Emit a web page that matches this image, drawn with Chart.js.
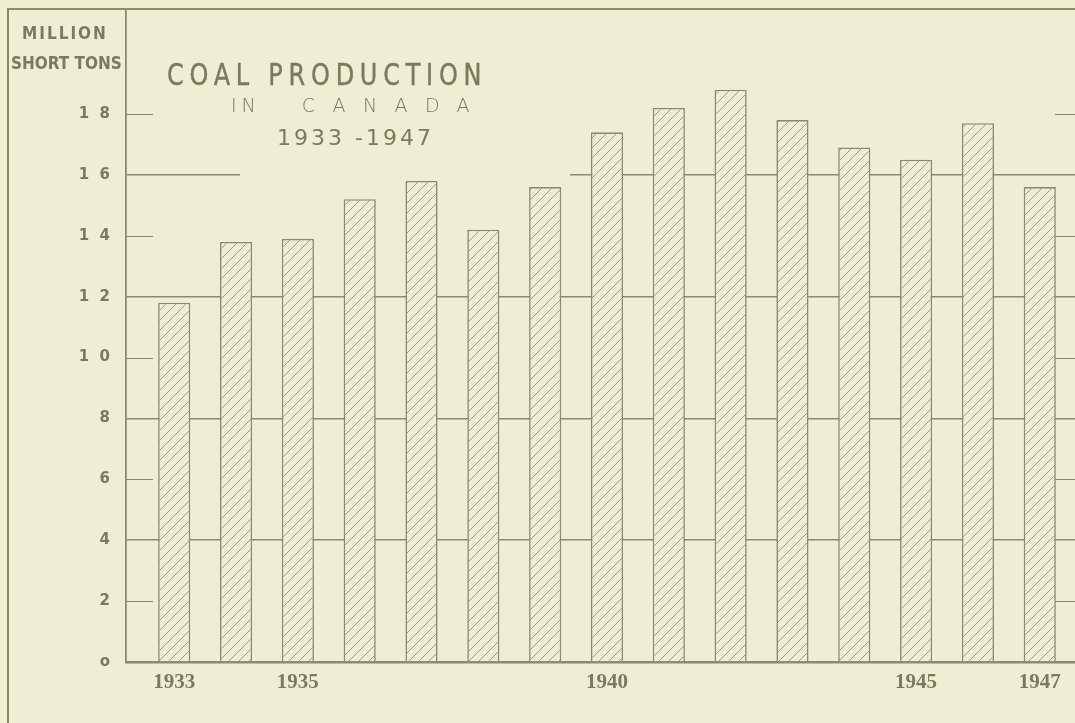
<!DOCTYPE html>
<html>
<head>
<meta charset="utf-8">
<script src="https://cdn.jsdelivr.net/npm/chart.js@4.4.0/dist/chart.umd.min.js"></script>
<style>
  body { margin: 0; background: #eeeed3; }
  #wrap { position: relative; width: 1075px; height: 723px; overflow: hidden; background: #eeeed3; }
  #frame { position: absolute; left: 7px; top: 8px; width: 1080px; height: 730px;
           border-left: 2px solid #7f8e60; border-top: 2px solid #8a8f6c; }
  canvas { position: absolute; left: 0; top: 0; }
  .txt { position: absolute; color: #7a7a5e; white-space: nowrap; line-height: 1; }
  #unit1 { left: 22px; top: 23px; font: bold 17px "DejaVu Sans Condensed", "DejaVu Sans"; letter-spacing: 2px; }
  #unit2 { left: 11px; top: 53px; font: bold 17px "DejaVu Sans Condensed", "DejaVu Sans"; }
  #titleBox { position: absolute; left: 240px; top: 50px; width: 330px; height: 128px; background: #eeeed3; }
  #title1 { left: 167px; top: 56px; font: 31px "DejaVu Sans Condensed", "DejaVu Sans"; letter-spacing: 6.7px;
            transform: scaleX(0.86); transform-origin: left top; -webkit-text-stroke: 0.4px #7a7a5e; }
  #title2 { left: 231px; top: 94px; font: 200 19px "DejaVu Sans", sans-serif; }
  #title3 { left: 277px; top: 125px; font: 22px "DejaVu Sans", sans-serif; letter-spacing: 3px; }
</style>
</head>
<body>
<div id="wrap">
  <canvas id="coalChart" width="1075" height="723"></canvas>
  <div id="frame"></div>
  <div id="titleBox"></div>
  <div class="txt" id="unit1">MILLION</div>
  <div class="txt" id="unit2">SHORT TONS</div>
  <div class="txt" id="title1">COAL PRODUCTION</div>
  <div class="txt" id="title2"><span style="letter-spacing:5px">IN</span><span style="margin-left:41px;letter-spacing:17.4px">CANADA</span></div>
  <div class="txt" id="title3">1933 -1947</div>
</div>
<script>
// million short tons
const years = [1933, 1934, 1935, 1936, 1937, 1938, 1939, 1940, 1941, 1942, 1943, 1944, 1945, 1946, 1947];
const production = [11.8, 13.8, 13.9, 15.2, 15.8, 14.2, 15.6, 17.4, 18.2, 18.8, 17.8, 16.9, 16.5, 17.7, 15.6];

const yearTicks = [1933, 1935, 1940, 1945, 1947];
const yTickValues = [0, 2, 4, 6, 8, 10, 12, 14, 16, 18];
const yTickLabels = ["o", "2", "4", "6", "8", "1  0", "1  2", "1  4", "1  6", "1  8"];
const gridValues = [4, 8, 12, 16];
const shortTickValues = [2, 6, 10, 14, 18];

const lineColor = "#8a8a70";
const textColor = "#7a7a5e";
const paper = "#eeeed3";

// diagonal hatch for the bars
function makeHatch() {
  const c = document.createElement("canvas");
  c.width = 10; c.height = 10;
  const g = c.getContext("2d");
  g.fillStyle = paper;
  g.fillRect(0, 0, 10, 10);
  g.strokeStyle = "#9c9c82";
  g.lineWidth = 1;
  g.beginPath();
  g.moveTo(0, 10); g.lineTo(10, 0);
  g.moveTo(-1, 1); g.lineTo(1, -1);
  g.moveTo(9, 11); g.lineTo(11, 9);
  g.stroke();
  return g.createPattern(c, "repeat");
}

const shortTicks = {
  id: "shortTicks",
  beforeDatasetsDraw(chart) {
    const {ctx, chartArea, scales} = chart;
    ctx.save();
    ctx.strokeStyle = lineColor;
    ctx.lineWidth = 1.2;
    shortTickValues.forEach(v => {
      const py = Math.round(scales.y.getPixelForValue(v)) + 0.5;
      ctx.beginPath();
      ctx.moveTo(chartArea.left, py);
      ctx.lineTo(chartArea.left + 27, py);
      ctx.moveTo(chartArea.right - 20, py);
      ctx.lineTo(chartArea.right, py);
      ctx.stroke();
    });
    ctx.restore();
  }
};

const chart = new Chart("coalChart", {
  type: "bar",
  data: {
    datasets: [{
      data: years.map((yr, i) => ({x: yr, y: production[i]})),
      backgroundColor: makeHatch(),
      borderColor: lineColor,
      borderWidth: 1.6,
      borderSkipped: "bottom",
      barPercentage: 0.52,
      categoryPercentage: 1
    }]
  },
  options: {
    responsive: false,
    animation: false,
    layout: {padding: {top: 9, left: 0, right: 0, bottom: 0}},
    plugins: {legend: {display: false}, tooltip: {enabled: false}},
    scales: {
      x: {
        type: "linear",
        min: 1932.22,
        max: 1947.57,
        offset: false,
        afterBuildTicks: s => { s.ticks = yearTicks.map(v => ({value: v})); },
        afterFit: s => { s.height = 61; },
        grid: {display: false},
        border: {color: lineColor, width: 2.5},
        ticks: {
          color: textColor,
          padding: 0,
          autoSkip: false,
          maxRotation: 0,
          font: {family: "'Liberation Serif'", size: 21, weight: "bold"},
          callback: v => String(v)
        }
      },
      y: {
        min: 0,
        max: 21.45,
        afterBuildTicks: s => { s.ticks = yTickValues.map(v => ({value: v})); },
        afterFit: s => { s.width = 126; s.paddingTop = 0; s.paddingBottom = 0; },
        grid: {
          drawTicks: false,
          color: c => gridValues.includes(c.tick.value) ? lineColor : "rgba(0,0,0,0)",
          lineWidth: 1.5
        },
        border: {color: lineColor, width: 1.8},
        ticks: {
          color: textColor,
          padding: 16,
          font: {family: "'DejaVu Sans'", size: 15, weight: "bold"},
          callback: v => yTickLabels[yTickValues.indexOf(v)]
        }
      }
    }
  },
  plugins: [shortTicks]
});
</script>
</body>
</html>
